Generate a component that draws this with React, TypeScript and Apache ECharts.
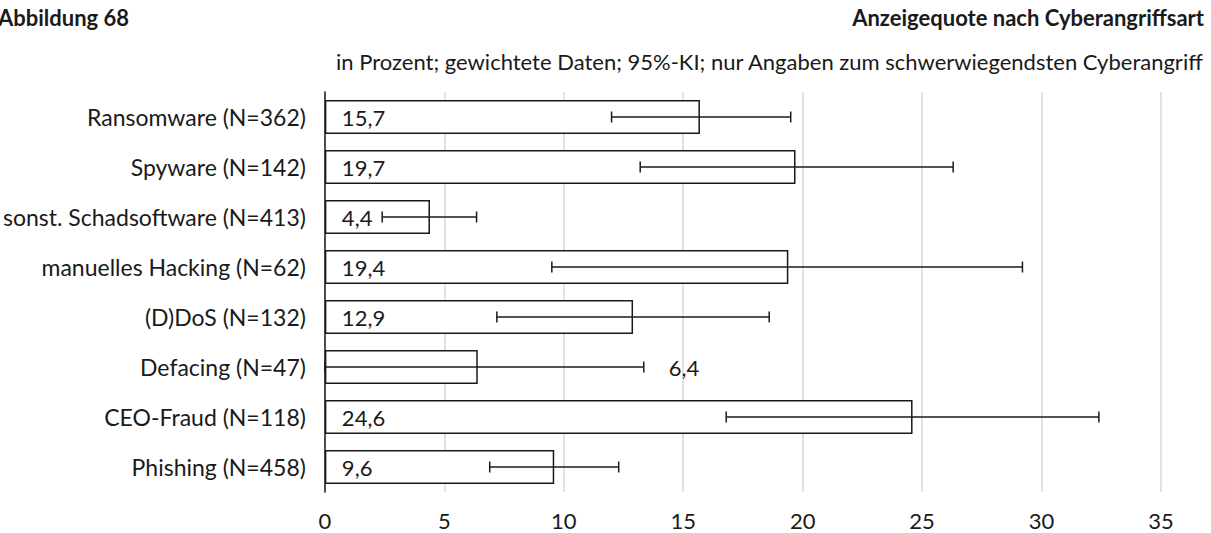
import React, { useEffect, useRef } from "react";
import * as echarts from "echarts";

const categories = [
  "Ransomware (N=362)",
  "Spyware (N=142)",
  "sonst. Schadsoftware (N=413)",
  "manuelles Hacking (N=62)",
  "(D)DoS (N=132)",
  "Defacing (N=47)",
  "CEO-Fraud (N=118)",
  "Phishing (N=458)",
];
const values = [15.7, 19.7, 4.4, 19.4, 12.9, 6.4, 24.6, 9.6];
const ciLower = [12.0, 13.2, 2.4, 9.5, 7.2, 0, 16.8, 6.9];
const ciUpper = [19.5, 26.3, 6.35, 29.2, 18.6, 13.35, 32.4, 12.3];
const labelOutside = [false, false, false, false, false, true, false, false];
const xTicks = [0, 5, 10, 15, 20, 25, 30, 35];

const FONT = "Lato";
const TXT = "#1a1a1a";
const FS = 22;

export default function App() {
  const ref = useRef<HTMLDivElement>(null);
  useEffect(() => {
    const chart = echarts.init(ref.current!, null, { renderer: "svg" });
    const fmt = (v: number) => v.toFixed(1).replace(".", ",");
    chart.setOption({
      animation: false,
      textStyle: { fontFamily: FONT, color: TXT },
      graphic: [
        {
          type: "text",
          left: -2,
          top: 6,
          style: { text: "Abbildung 68", font: `bold ${FS}px ${FONT}`, fill: TXT },
        },
        {
          type: "text",
          right: 7,
          top: 6,
          style: { text: "Anzeigequote nach Cyberangriffsart", font: `bold ${FS}px ${FONT}`, fill: TXT },
        },
        {
          type: "text",
          right: 7,
          top: 50,
          style: {
            text: "in Prozent; gewichtete Daten; 95%-KI; nur Angaben zum schwerwiegendsten Cyberangriff",
            font: `${FS}px ${FONT}`,
            fill: TXT,
          },
        },
      ],
      grid: { left: 324, right: 50, top: 92, height: 400, containLabel: false },
      xAxis: {
        type: "value",
        min: 0,
        max: 35,
        interval: 5,
        axisLine: { show: false },
        axisTick: { show: false },
        splitLine: { show: true, lineStyle: { color: "#d9d9d9", width: 1.5 } },
        axisLabel: {
          fontFamily: FONT,
          fontSize: FS,
          color: TXT,
          margin: 17,
          customValues: xTicks,
        },
      },
      yAxis: {
        type: "category",
        data: categories,
        inverse: true,
        axisLine: { show: true, lineStyle: { color: "#1a1a1a", width: 1.5 } },
        axisTick: { show: false },
        axisLabel: { fontFamily: FONT, fontSize: 23, color: TXT, margin: 19 },
      },
      series: [
        {
          type: "bar",
          data: values,
          barCategoryGap: "32%",
          itemStyle: { color: "#ffffff", borderColor: "#1a1a1a", borderWidth: 1.5 },
          z: 2,
        },
        {
          type: "custom",
          z: 3,
          data: values.map((v, i) => [i, ciLower[i], ciUpper[i], v, labelOutside[i] ? 1 : 0]),
          encode: { x: [1, 2], y: 0 },
          renderItem: (params: any, api: any) => {
            const idx = api.value(0);
            const lo = api.coord([api.value(1), idx]);
            const hi = api.coord([api.value(2), idx]);
            const zero = api.coord([0, idx]);
            const v = api.value(3);
            const outside = api.value(4) === 1;
            const cap = 5.5;
            const st = { stroke: "#1a1a1a", lineWidth: 1.5 };
            return {
              type: "group",
              children: [
                { type: "line", shape: { x1: lo[0], y1: lo[1], x2: hi[0], y2: hi[1] }, style: st },
                { type: "line", shape: { x1: lo[0], y1: lo[1] - cap, x2: lo[0], y2: lo[1] + cap }, style: st },
                { type: "line", shape: { x1: hi[0], y1: hi[1] - cap, x2: hi[0], y2: hi[1] + cap }, style: st },
                {
                  type: "text",
                  x: outside ? hi[0] + 25 : zero[0] + 17,
                  y: zero[1],
                  style: {
                    text: fmt(v),
                    font: `${FS}px ${FONT}`,
                    fill: TXT,
                    verticalAlign: "middle",
                    align: "left",
                  },
                },
              ],
            };
          },
        },
      ],
    });
    return () => chart.dispose();
  }, []);
  return <div ref={ref} style={{ width: 1211, height: 533, position: "absolute", left: 0, top: 0 }} />;
}
